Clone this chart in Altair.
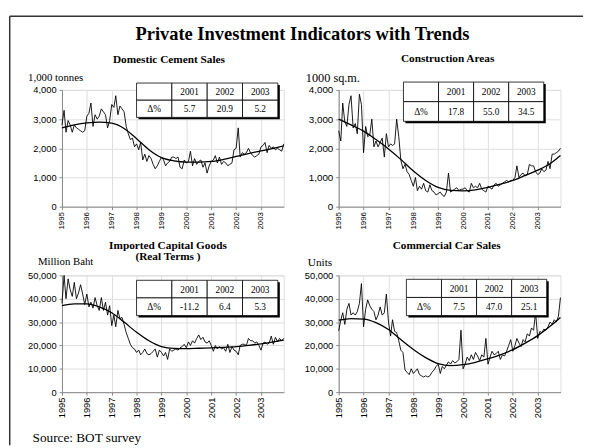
import altair as alt
import pandas as pd

FONT = "Liberation Serif"

# ---------------- data ----------------
months = pd.date_range("1995-01-01", periods=108, freq="MS").strftime("%Y-%m-%dT00:00:00").tolist()
trend_dates = [f"{y}-{m:02d}-01T00:00:00" for y in range(1995, 2004) for m in (1, 7)] + ["2003-12-01T00:00:00"]
years = list(range(1995, 2004))

cement = [
    2800, 3300, 2550, 2950, 2800, 2550, 2800, 2700, 2650, 2600, 2550, 2600,
    3100, 3200, 3550, 2750, 3150, 3000, 3100, 3350, 3250, 3150, 2700, 2950,
    3500, 3400, 3800, 3150, 3450, 3350, 3250, 2750, 2500, 2300, 2350, 2050,
    2150, 1950, 2200, 1600, 1800, 1550, 1750, 1650, 1450, 1300, 1400, 1550,
    1700, 1600, 1400, 1500, 1550, 1700, 1700, 1650, 1700, 1350, 1300, 1600,
    1500, 1550, 1900, 1400, 1650, 1450, 1550, 1600, 1350, 1500, 1150, 1400,
    1550, 1600, 1750, 1500, 1700, 1450, 1550, 1500, 1400, 1450, 1500, 1950,
    2000, 2700, 1700, 1850, 1800, 1850, 2000, 1850, 1750, 1700, 1750, 1800,
    2050, 2100, 2200, 1850, 2100, 2000, 2050, 1950, 2000, 1950, 1900, 2150,
]
cement_trend = [2700, 2800, 2870, 2900, 2860, 2680, 2330, 1950, 1680, 1570,
                1530, 1530, 1550, 1620, 1720, 1820, 1910, 2000, 2080]

construction = [
    2600, 2250, 3550, 2900, 2750, 3500, 3800, 2700, 2850, 2500, 3850, 3500,
    1850, 2750, 2400, 2450, 3000, 2050, 2250, 2050, 2200, 2350, 1700, 2500,
    2050, 2150, 2100, 2150, 3000, 2400, 1600, 1300, 1450, 1200, 1100, 900,
    700, 1000, 550, 700, 600, 800, 550, 500, 750, 550, 500, 400,
    450, 500, 400, 350, 500, 1150, 500, 550, 600, 650, 550, 600,
    600, 650, 550, 500, 800, 650, 700, 650, 800, 600, 550, 500,
    700, 650, 600, 750, 800, 700, 750, 800, 850, 900, 850, 900,
    900, 1000, 1400, 1000, 1100, 1150, 1050, 1100, 1450, 1400, 1400, 1200,
    1100, 1150, 1300, 1200, 1250, 1550, 1300, 1800, 1800, 1850, 1900, 2000,
]
construction_trend = [3000, 2800, 2590, 2300, 1980, 1620, 1220, 900, 660, 560,
                      545, 575, 660, 770, 900, 1070, 1250, 1470, 1750]

imports = [
    38000, 50000, 40000, 48500, 44000, 41000, 47000, 40000, 42500, 46000, 42000, 37500,
    42000, 36500, 38500, 36000, 40500, 37000, 35000, 40500, 35000, 38500, 33000, 37000,
    28500, 33000, 28000, 35000, 31500, 32000, 29000, 25500, 23000, 20500, 19000, 18500,
    17000, 18000, 16000, 17000, 18500, 16500, 16000, 16500, 17500, 18500, 15000, 18000,
    17000, 15500, 17000, 14000, 18500, 17500, 18000, 18500, 18000, 19000, 19500, 20500,
    19000, 21500, 20000, 22000, 21000, 23000, 24500, 22500, 23500, 21500, 21000, 22000,
    20000, 17500, 20000, 18500, 19500, 18500, 19000, 17500, 20500, 17000, 19500, 18000,
    17500, 16000, 20000, 20500, 20500, 20000, 23000, 22000, 22000, 21000, 21500, 20000,
    18000, 21000, 21500, 20500, 21000, 24000, 20500, 23500, 21500, 23000, 22000, 23000,
]
imports_trend = [37000, 37800, 37800, 36500, 34000, 30000, 25600, 22000, 19500, 18700,
                 18600, 18800, 19000, 19200, 19500, 20000, 20700, 21500, 22300]

cars = [
    26300, 30800, 34000, 29000, 35500, 38000, 33000, 34000, 33000, 34500, 38000, 46500,
    28000, 35500, 39500, 37000, 35500, 34500, 31000, 33000, 36500, 33000, 34000, 42000,
    30000, 24000, 31000, 26000, 25500, 22000, 18000, 17000, 9500, 8500, 7500, 10000,
    8000, 9000, 10000, 7500, 7000, 6500, 7000, 6500, 7000, 8500, 9500, 11000,
    12000, 8000, 11000, 10000, 11500, 13000, 12000, 13500, 12500, 13000, 14000, 26500,
    10000, 12000, 15000, 13500, 16000, 14000, 17000, 15500, 13500, 16000, 15000, 23000,
    12000, 15000, 17500, 16000, 16500, 17500, 14000, 16000, 15500, 17500, 20000, 22500,
    17500, 20000, 23000, 21000, 19500, 22500, 21500, 25000, 24000, 27500, 26500, 34000,
    23000, 26000, 25500, 27000, 26500, 28000, 30000, 29000, 31000, 30000, 32500, 40500,
]
cars_trend = [30800, 31500, 31300, 29800, 26800, 22500, 18300, 14800, 12200, 11400,
              11800, 12800, 14300, 16000, 18200, 21000, 24200, 28200, 32000]

table_years = ["2001", "2002", "2003"]
cement_delta = ["5.7", "20.9", "5.2"]
construction_delta = ["17.8", "55.0", "34.5"]
imports_delta = ["-11.2", "6.4", "5.3"]
cars_delta = ["7.5", "47.0", "25.1"]

ONE = pd.DataFrame({"k": [0]})

PW, PH = 226, 119


def panel(values, trend, ymax, ystep, unit, unit_xy, unit_size, title_lines, title_xy,
          deltas, tx, ty, xlab_size, ylab_size, extra=()):
    raw_df = pd.DataFrame({"date": months, "value": values})
    tr_df = pd.DataFrame({"date": trend_dates, "value": trend})
    xs = alt.Scale(domain=[alt.DateTime(year=1995, month=1, date=1),
                           alt.DateTime(year=2003, month=12, date=1)])
    ys = alt.Scale(domain=[0, ymax], nice=False)
    xaxis = alt.Axis(values=[alt.DateTime(year=y, month=1, date=1) for y in years],
                     tickCount={"interval": "year", "step": 1},
                     format="%Y", labelAngle=270, labelAlign="right", labelBaseline="middle",
                     labelFontSize=xlab_size, labelPadding=2, tickSize=3, title=None,
                     labelOverlap=False, labelFlush=False, labelSeparation=0)
    yvals = list(range(0, ymax + 1, ystep))
    yaxis = alt.Axis(values=yvals, tickCount=len(yvals) + 2,
                     format=",d", labelFontSize=ylab_size, labelOverlap=False,
                     labelFlush=False,
                     labelPadding=3, tickSize=3, title=unit, titleAngle=0, titleAlign="left",
                     titleBaseline="alphabetic", titleX=unit_xy[0], titleY=unit_xy[1],
                     titleFontSize=unit_size, titleFontWeight="normal", titleFont=FONT)
    raw = alt.Chart(raw_df).mark_line(color="black", strokeWidth=0.9).encode(
        x=alt.X("date:T", scale=xs, axis=xaxis),
        y=alt.Y("value:Q", scale=ys, axis=yaxis),
    )
    trd = alt.Chart(tr_df).mark_line(color="black", strokeWidth=1.3, interpolate="monotone").encode(
        x=alt.X("date:T", scale=xs, axis=xaxis),
        y=alt.Y("value:Q", scale=ys, axis=yaxis),
    )

    # table (pixel positions, no scales)
    cw = (tx[1] - tx[0]) / 4
    rh = (ty[1] - ty[0]) / 2
    cells = []
    labels = [""] + table_years + ["\u0394%"] + deltas
    for i, lab in enumerate(labels):
        r, c = divmod(i, 4)
        cells.append({"px0": tx[0] + c * cw, "px1": tx[0] + (c + 1) * cw,
                      "py0": ty[0] + r * rh, "py1": ty[0] + (r + 1) * rh,
                      "pxm": tx[0] + (c + 0.5) * cw, "pym": ty[0] + (r + 0.5) * rh,
                      "label": lab})
    cdf = pd.DataFrame(cells)
    sdf = pd.DataFrame({"px0": [tx[0] + 2], "px1": [tx[1] + 2],
                        "py0": [ty[0] + 2], "py1": [ty[1] + 2]})
    shadow = alt.Chart(sdf).mark_rect(color="black").encode(
        x=alt.X("px0:Q", scale=None), x2="px1:Q",
        y=alt.Y("py0:Q", scale=None), y2="py1:Q")
    rects = alt.Chart(cdf).mark_rect(fill="white", stroke="black", strokeWidth=0.8).encode(
        x=alt.X("px0:Q", scale=None), x2="px1:Q",
        y=alt.Y("py0:Q", scale=None), y2="py1:Q")
    texts = alt.Chart(cdf).mark_text(font=FONT, fontSize=9.5, color="black", baseline="middle",
                                     align="center", dy=0.5).encode(
        x=alt.X("pxm:Q", scale=None),
        y=alt.Y("pym:Q", scale=None),
        text="label:N")

    ttl = alt.Chart(ONE).mark_text(text=title_lines, font=FONT, fontSize=11.5, fontWeight="bold",
                                   align="center", baseline="alphabetic", lineHeight=11.5,
                                   color="black").encode(
        x=alt.value(title_xy[0]), y=alt.value(title_xy[1]))

    return alt.layer(raw, trd, shadow, rects, texts, ttl, *extra).properties(
        width=PW, height=PH)


# frame + global title + source (annotations)
frame_top = alt.Chart(ONE).mark_rule(color="#333333", strokeWidth=1.5).encode(
    x=alt.value(-53.25), x2=alt.value(531), y=alt.value(-75))
frame_left = alt.Chart(ONE).mark_rule(color="#333333", strokeWidth=1.5).encode(
    x=alt.value(-53.25), y=alt.value(-75), y2=alt.value(362))
main_title = alt.Chart(ONE).mark_text(
    text="Private Investment Indicators with Trends", font=FONT, fontSize=18.8,
    fontWeight="bold", align="center", baseline="alphabetic", color="black").encode(
    x=alt.value(245), y=alt.value(-51))
source = alt.Chart(ONE).mark_text(
    text="Source: BOT survey", font=FONT, fontSize=13.5, align="left",
    baseline="alphabetic", color="black").encode(x=alt.value(-30), y=alt.value(170))

tl = panel(cement, cement_trend, 4000, 1000, "1,000 tonnes", (-35, -10), 11,
           "Domestic Cement Sales", (109, -27), cement_delta, (76, 220), (-7, 28), 8, 9.5,
           extra=(frame_top, frame_left, main_title))
tr = panel(construction, construction_trend, 4000, 1000, "1000 sq.m.", (-34, -9), 12.5,
           "Construction Areas", (111, -28), construction_delta, (66, 209), (-8, 32), 8, 10,
           )
bl = panel(imports, imports_trend, 50000, 10000, "Million Baht", (-25, -11), 11,
           ["Imported Capital Goods", "(Real Terms )"], (108, -27), imports_delta,
           (76, 220), (5, 41), 9.5, 9.5, extra=(source,))
br = panel(cars, cars_trend, 50000, 10000, "Units", (-32, -10), 11.5,
           "Commercial Car Sales", (110, -27), cars_delta, (69, 212), (4, 41), 9.5, 9.5)

chart = alt.concat(tl, tr, bl, br, columns=2, spacing={"row": 70, "column": 56},
                   bounds="flush").properties(
    padding={"left": 0, "top": 2.25, "right": 0, "bottom": 0}
).configure_view(stroke=None).configure_axis(
    labelFont=FONT, labelColor="black", domainColor="black", tickColor="black",
    grid=False, domainWidth=1, tickWidth=1, labelOverlap=False
).configure(background="white")

chart.save("out.html", embed_options={"renderer": "svg", "actions": False})
